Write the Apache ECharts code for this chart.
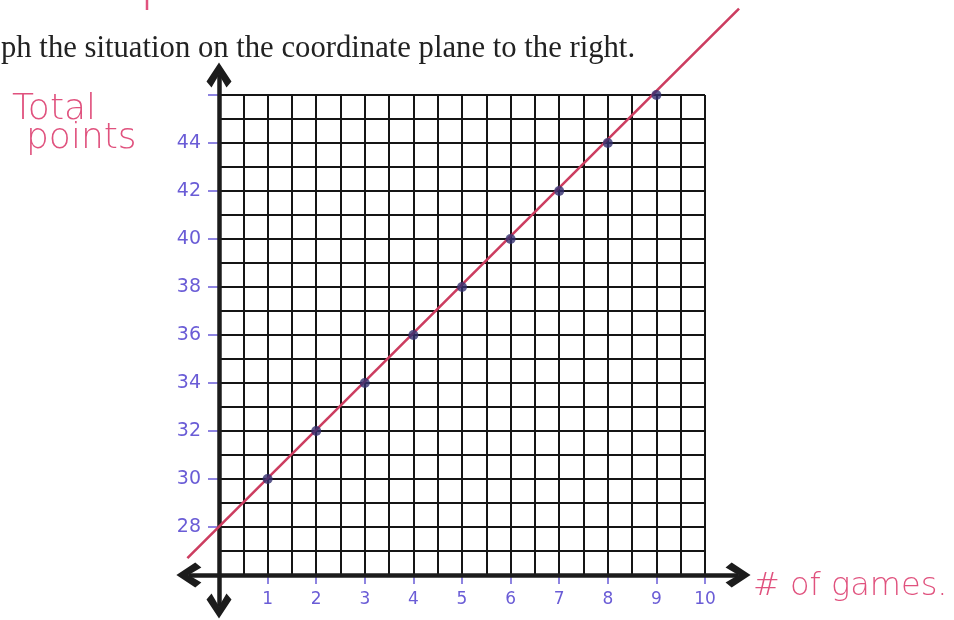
<!DOCTYPE html>
<html>
<head>
<meta charset="utf-8">
<script src="https://cdn.jsdelivr.net/npm/echarts@6/dist/echarts.min.js"></script>
<style>
  html, body { margin: 0; padding: 0; background: #fff; }
  #chart { width: 954px; height: 620px; }
</style>
</head>
<body>
<div id="chart"></div>
<script>
// plotted points: games vs total points
var games = [1, 2, 3, 4, 5, 6, 7, 8, 9];
var totalPoints = [30, 32, 34, 36, 38, 40, 42, 44, 46];
// the hand drawn line runs past the grid on both ends
var lineGames = [-0.65, 10.7];
var linePoints = [26.7, 49.6];
// arrowed axes, drawn past the grid too
var xAxisEnds = [-0.62, 10.68];
var yAxisEnds = [24.71, 46.83];

var ink = '#6a5cd6';
var pen = '#e0527e';
var handFont = '"DejaVu Sans", sans-serif';

// chevron arrow head, tip pointing up (lines series turns it outward)
var chevron = 'path://M0,0 L12.5,17 L7.5,22.5 L0,11 L-7.5,22.5 L-12.5,17 Z';

var chart = echarts.init(document.getElementById('chart'));

var option = {
  animation: false,
  title: {
    text: 'ph the situation on the coordinate plane to the right.',
    left: 1,
    top: 33,
    padding: 0,
    textStyle: { fontFamily: '"Liberation Serif", serif', fontSize: 30.7, fontWeight: 'normal', color: '#222' }
  },
  grid: { left: 219, right: 249, top: 95, bottom: 45 },
  xAxis: [
    {
      type: 'value', min: 0, max: 10, interval: 0.5,
      axisLine: { show: false }, axisTick: { show: false }, axisLabel: { show: false },
      splitLine: { show: true, lineStyle: { color: '#151515', width: 2 } }
    },
    {
      type: 'value', min: 0, max: 10, interval: 1, position: 'bottom',
      axisLine: { show: false },
      axisTick: { show: true, length: 9, lineStyle: { color: ink, width: 1.5 } },
      axisLabel: {
        margin: 16, color: ink, fontFamily: handFont, fontSize: 17,
        formatter: function (v) { return v === 0 ? '' : String(v); }
      },
      splitLine: { show: false }
    }
  ],
  yAxis: [
    {
      type: 'value', min: 26, max: 46, interval: 1,
      axisLine: { show: false }, axisTick: { show: false }, axisLabel: { show: false },
      splitLine: { show: true, lineStyle: { color: '#151515', width: 2 } }
    },
    {
      type: 'value', min: 26, max: 46, interval: 2, position: 'left',
      axisLine: { show: false },
      axisTick: { show: true, length: 11, lineStyle: { color: ink, width: 1.5 } },
      axisLabel: {
        margin: 18, color: ink, fontFamily: handFont, fontSize: 19,
        formatter: function (v) { return (v === 26 || v === 46) ? '' : String(v); }
      },
      splitLine: { show: false }
    }
  ],
  series: [
    {
      // both axes, arrowed at each end
      type: 'lines', coordinateSystem: 'cartesian2d', clip: false, silent: true, z: 3,
      symbol: [chevron, chevron],
      symbolSize: 25,
      lineStyle: { color: '#1c1c1c', width: 4.5, opacity: 1 },
      itemStyle: { color: '#1c1c1c' },
      data: [
        { coords: [[xAxisEnds[0], 26], [xAxisEnds[1], 26]] },
        { coords: [[0, yAxisEnds[0]], [0, yAxisEnds[1]]] }
      ]
    },
    {
      type: 'lines', coordinateSystem: 'cartesian2d', clip: false, silent: true, z: 4,
      symbol: 'none',
      lineStyle: { color: '#cc3d60', width: 2.6, opacity: 1 },
      data: [{ coords: lineGames.map(function (g, i) { return [g, linePoints[i]]; }) }]
    },
    {
      type: 'scatter', z: 5, clip: false,
      symbolSize: 10,
      data: games.map(function (g, i) { return [g, totalPoints[i]]; }),
      itemStyle: { color: '#33306f' }
    }
  ],
  graphic: [
    { type: 'text', left: 12, top: 92, style: { text: 'Total', fill: pen, font: '200 36px ' + handFont } },
    { type: 'text', left: 26, top: 121, style: { text: 'points', fill: pen, font: '200 36px ' + handFont } },
    { type: 'text', left: 753, top: 571, style: { text: '# of games.', fill: pen, font: '200 32px ' + handFont } },
    { type: 'line', shape: { x1: 147, y1: 0, x2: 147, y2: 10 }, style: { stroke: pen, lineWidth: 2.5 } }
  ]
};

chart.setOption(option);
</script>
</body>
</html>
